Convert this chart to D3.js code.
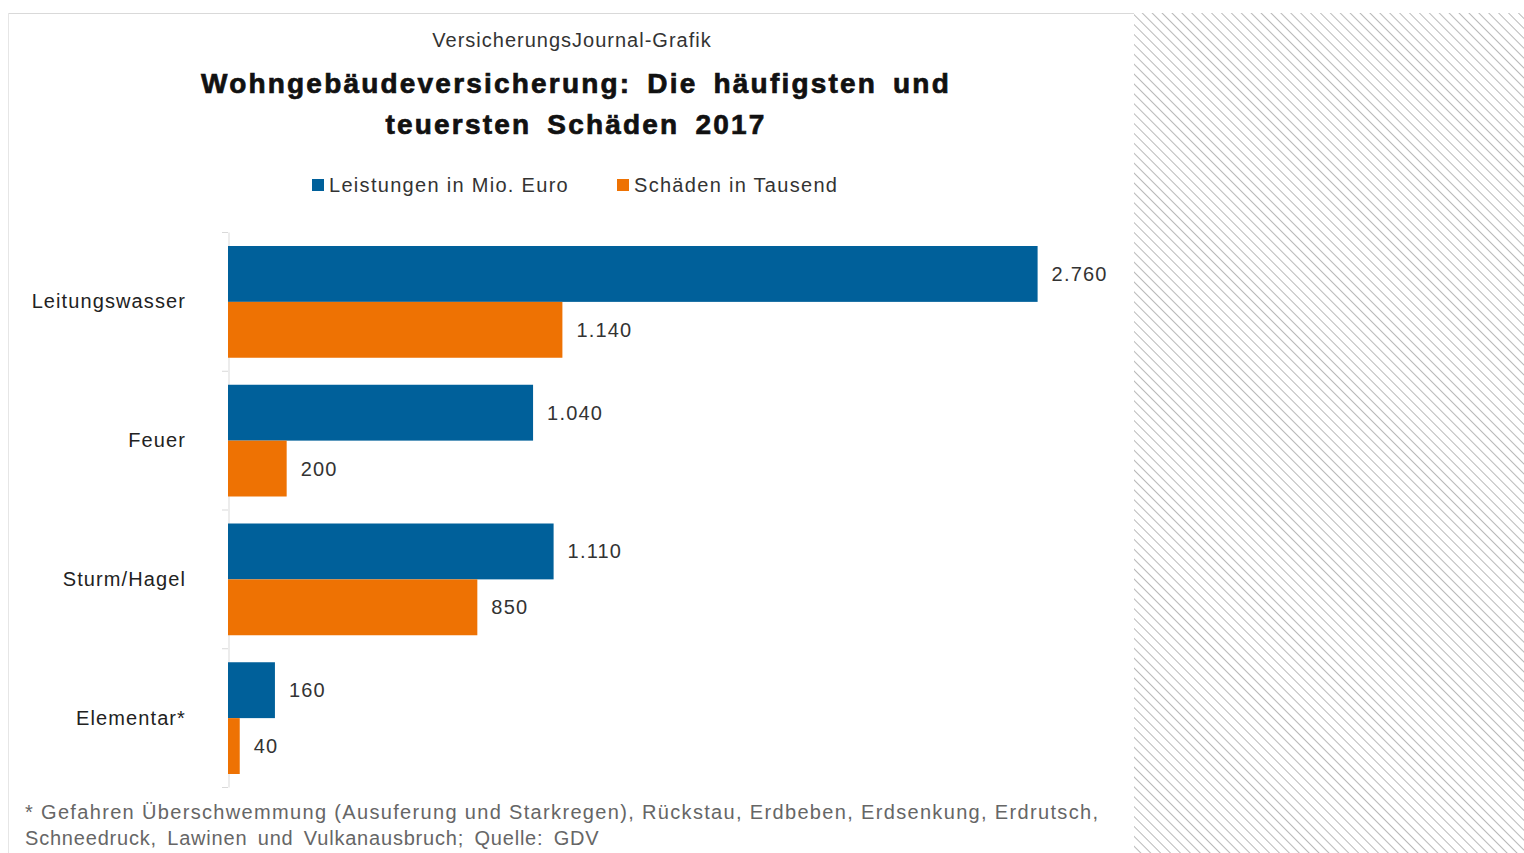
<!DOCTYPE html>
<html>
<head>
<meta charset="utf-8">
<script src="https://cdn.jsdelivr.net/npm/d3@7"></script>
<style>
  html, body { margin: 0; padding: 0; background: #fff; }
  svg { display: block; font-family: "Liberation Sans", Arial, sans-serif; }
</style>
</head>
<body>
<div id="chart"></div>
<script>
const categories = ["Leitungswasser", "Feuer", "Sturm/Hagel", "Elementar*"];
const seriesNames = ["Leistungen in Mio. Euro", "Schäden in Tausend"];
const leistungen = [2760, 1040, 1110, 160];
const schaeden = [1140, 200, 850, 40];
const valueLabels = [["2.760", "1.140"], ["1.040", "200"], ["1.110", "850"], ["160", "40"]];
const colors = ["#00609a", "#ee7203"];

const W = 1524, H = 853;
const svg = d3.select("#chart").append("svg")
  .attr("width", W)
  .attr("height", H);

// hatched area on the right
const defs = svg.append("defs");
defs.append("pattern")
  .attr("id", "hatch")
  .attr("patternUnits", "userSpaceOnUse")
  .attr("width", 7)
  .attr("height", 7)
  .attr("patternTransform", "rotate(-45)")
  .append("line")
  .attr("x1", 0).attr("y1", 0)
  .attr("x2", 0).attr("y2", 7)
  .attr("stroke", "#8a8a8a")
  .attr("stroke-width", 1.2);

svg.append("rect")
  .attr("x", 1134).attr("y", 13)
  .attr("width", W - 1134).attr("height", H - 13)
  .attr("fill", "url(#hatch)");

// frame lines of the white panel
svg.append("line")
  .attr("x1", 8).attr("x2", 1134).attr("y1", 13.5).attr("y2", 13.5)
  .attr("stroke", "#d9d9d9");
svg.append("line")
  .attr("x1", 8.5).attr("x2", 8.5).attr("y1", 13).attr("y2", H)
  .attr("stroke", "#e6e6e6");

// titles
svg.append("text")
  .attr("x", 572).attr("y", 47)
  .attr("text-anchor", "middle")
  .attr("font-size", 20)
  .attr("letter-spacing", 1)
  .attr("fill", "#333")
  .text("VersicherungsJournal-Grafik");

const title = svg.append("text")
  .attr("text-anchor", "middle")
  .attr("font-size", 28)
  .attr("font-weight", "bold")
  .attr("fill", "#111")
  .attr("stroke", "#111")
  .attr("stroke-width", 0.7)
  .attr("word-spacing", 6)
  .attr("letter-spacing", 2.2);
title.append("tspan").attr("x", 576).attr("y", 93).text("Wohngebäudeversicherung: Die häufigsten und");
title.append("tspan").attr("x", 576).attr("y", 134).text("teuersten Schäden 2017");

// legend
const legendX = [312, 617];
const legend = svg.append("g");
seriesNames.forEach((name, i) => {
  legend.append("rect")
    .attr("x", legendX[i]).attr("y", 179)
    .attr("width", 12).attr("height", 12)
    .attr("fill", colors[i]);
  legend.append("text")
    .attr("x", legendX[i] + 17).attr("y", 192)
    .attr("font-size", 20)
    .attr("letter-spacing", 1.3)
    .attr("fill", "#333")
    .text(name);
});

// scales
const y = d3.scaleBand()
  .domain(categories)
  .range([232, 787])
  .paddingInner(0)
  .paddingOuter(0);

const inner = d3.scaleBand()
  .domain([0, 1])
  .range([14, y.bandwidth() - 13]);

const x = d3.scaleLinear()
  .domain([0, 3000])
  .range([228, 1108]);

// axis
const yAxis = d3.axisLeft(y).tickSize(0).tickFormat("");
svg.append("g")
  .attr("transform", "translate(228.5,0)")
  .call(yAxis)
  .call(g => g.select(".domain").attr("stroke", "#d9d9d9"));

// boundary ticks
const bounds = categories.map(c => y(c)).concat([y.range()[1]]);
svg.append("g").selectAll("line")
  .data(bounds)
  .enter().append("line")
  .attr("x1", 222).attr("x2", 228)
  .attr("y1", d => d + 0.5).attr("y2", d => d + 0.5)
  .attr("stroke", "#d9d9d9");

// category labels
svg.append("g").selectAll("text")
  .data(categories)
  .enter().append("text")
  .attr("x", 186)
  .attr("y", d => y(d) + y.bandwidth() / 2 + 7)
  .attr("text-anchor", "end")
  .attr("font-size", 20)
  .attr("letter-spacing", 1.1)
  .attr("fill", "#222")
  .text(d => d);

// bars
const rows = categories.map((c, i) => ({
  cat: c,
  values: [leistungen[i], schaeden[i]],
  labels: valueLabels[i]
}));

const groups = svg.append("g").selectAll("g")
  .data(rows)
  .enter().append("g")
  .attr("transform", d => `translate(0,${y(d.cat)})`);

groups.selectAll("rect")
  .data(d => d.values.map((v, j) => ({ v: v, j: j, label: d.labels[j] })))
  .enter().append("rect")
  .attr("x", x(0))
  .attr("y", d => inner(d.j))
  .attr("width", d => x(d.v) - x(0))
  .attr("height", inner.bandwidth())
  .attr("fill", d => colors[d.j]);

groups.selectAll("text")
  .data(d => d.values.map((v, j) => ({ v: v, j: j, label: d.labels[j] })))
  .enter().append("text")
  .attr("x", d => x(d.v) + 14)
  .attr("y", d => inner(d.j) + inner.bandwidth() / 2 + 7)
  .attr("font-size", 20)
  .attr("letter-spacing", 1.2)
  .attr("fill", "#333")
  .text(d => d.label);

// footnote
svg.append("text")
  .attr("x", 25).attr("y", 819)
  .attr("font-size", 20)
  .attr("fill", "#666")
  .attr("textLength", 1073)
  .attr("lengthAdjust", "spacing")
  .text("* Gefahren Überschwemmung (Ausuferung und Starkregen), Rückstau, Erdbeben, Erdsenkung, Erdrutsch,");
svg.append("text")
  .attr("x", 25).attr("y", 845)
  .attr("font-size", 20)
  .attr("fill", "#666")
  .attr("letter-spacing", 0.8)
  .attr("word-spacing", 4)
  .text("Schneedruck, Lawinen und Vulkanausbruch; Quelle: GDV");
</script>
</body>
</html>
